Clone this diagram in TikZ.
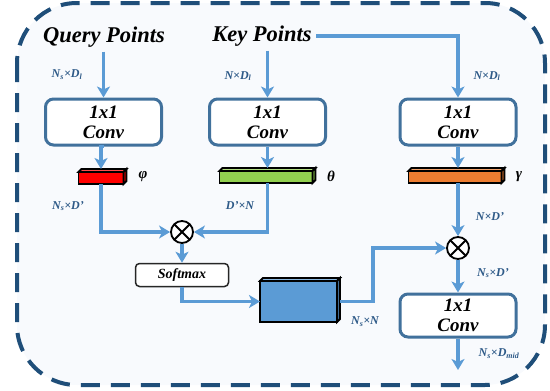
\documentclass[tikz,border=0pt]{standalone}
\usepackage{fontspec}
\setmainfont{Liberation Serif}
\usetikzlibrary{arrows.meta, calc}
\definecolor{flowblue}{HTML}{5B9BD5}
\definecolor{boxblue}{HTML}{41719C}
\definecolor{textblue}{HTML}{2E5A88}
\definecolor{framecol}{HTML}{1F4E79}
\definecolor{panel}{HTML}{F8FAFD}
\definecolor{barred}{HTML}{FF0000}
\definecolor{bargreen}{HTML}{92D050}
\definecolor{barorange}{HTML}{ED7D31}
\tikzset{
	frame/.style = {draw=framecol, line width=4pt, dash pattern=on 19pt off 11pt, rounded corners=60pt, fill=panel},
	title/.style = {font=\fontsize{22.5}{25}\selectfont\bfseries\itshape, outer sep=1pt},
	conv/.style = {draw=boxblue, line width=3pt, rounded corners=8pt, fill=white, minimum width=116pt, minimum height=46pt, align=center, font=\fontsize{19}{20}\selectfont\bfseries\itshape},
	soft/.style = {draw=black!85, line width=1.5pt, rounded corners=4pt, fill=white, minimum width=93pt, minimum height=23pt, font=\fontsize{14}{15}\selectfont\bfseries\itshape},
	barface/.style = {draw=black, line width=1.8pt, outer sep=0pt, inner sep=0pt, rectangle},
	mult/.style = {circle, draw=black, line width=1.8pt, fill=white, minimum size=22pt, inner sep=0pt,
		path picture={\draw[line width=1.8pt] (path picture bounding box.north west) -- (path picture bounding box.south east)
			(path picture bounding box.north east) -- (path picture bounding box.south west);}},
	flow/.style = {draw=flowblue, line width=3.8pt, -{Stealth[length=11pt, width=13pt, inset=3pt]}},
	lab/.style = {text=textblue, font=\fontsize{12}{14}\selectfont\bfseries\itshape, inner sep=0pt},
	greek/.style = {font=\fontsize{15}{16}\selectfont\bfseries\itshape, inner sep=0pt}
}
% feature bar with a thin top and side face
\newcommand{\featbar}[5]{
	\node [barface, minimum width=#3, minimum height=#4, fill=#5] (#1) at (#2) {};
	\draw [barface, fill=#5!70!white] (#1.north west) -- ++(3,-3) -- ([shift={(3,-3)}]#1.north east) -- (#1.north east) -- cycle;
	\draw [barface, fill=#5!70!black] (#1.north east) -- ++(3,-3) -- ([shift={(3,-3)}]#1.south east) -- (#1.south east) -- cycle;
}

\begin{document}
\begin{tikzpicture}[x=1pt, y=-1pt]
\useasboundingbox (0,0) rectangle (550,391);
\draw [frame] (17,3) rectangle (545,385);

\node [title] (qp) at (104,37) {Query Points};
\node [title] (kp) at (262,36) {Key Points};

\foreach \n/\x in {c1/103.5, c2/267.5, c3/458}
	\node [conv] (\n) at (\x,122) {1x1\\Conv};
\node [conv, minimum height=43pt] (c4) at (458,315.5) {1x1\\Conv};

\featbar{phi}{101,178}{45pt}{12pt}{barred}
\featbar{theta}{266,177}{93pt}{12pt}{bargreen}
\featbar{gam}{455,177}{93pt}{12pt}{barorange}
\node [greek] (phil) at (143,177) {φ};
\node [greek] (thetal) at (331,176) {θ};
\node [greek] (gaml) at (519,177) {γ};

\node [mult] (m1) at (182,232) {};
\node [mult] (m2) at (458,248) {};
\node [soft] (sm) at (182,275) {Softmax};
\featbar{att}{298.5,301.5}{77pt}{41pt}{flowblue}
\coordinate (out) at (458,370);

% connectors
\draw [flow] (qp.south -| c1) -- (c1.north);
\draw [flow] (kp.south -| c2) -- (c2.north);
\draw [flow] (kp.east) -| (c3.north);
\draw [flow, shorten >=3pt] (c1.south) -- (c1.south -| phi) -- (phi.north);
\draw [flow, shorten >=3pt] (c2.south) -- (theta.north -| c2);
\draw [flow, shorten >=3pt] (c3.south) -- (gam.north -| c3);
\draw [flow] (phi.south) |- (m1.west);
\draw [flow] (theta.south -| c2) |- (m1.east);
\draw [flow] (m1.south) -- (sm.north);
\draw [flow] (sm.south) |- (att.west);
\draw [flow, shorten <=3pt] (att.east) -- ++(36,0) |- (m2.west);
\draw [flow] (gam.south -| m2) -- (m2.north);
\draw [flow] (m2.south) -- (c4.north);
\draw [flow] (c4.south) -- (out);

% sizes
\node [lab] (l1) at (67,75) {N\textsubscript{s}×D\textsubscript{l}};
\node [lab] (l2) at (238,76) {N×D\textsubscript{l}};
\node [lab] (l3) at (487,76) {N×D\textsubscript{l}};
\node [lab] (l4) at (68,206) {N\textsubscript{s}×D'};
\node [lab] (l5) at (240,206) {D'×N};
\node [lab] (l6) at (490,217) {N×D'};
\node [lab] (l7) at (493,273) {N\textsubscript{s}×D'};
\node [lab] (l8) at (365,322) {N\textsubscript{s}×N};
\node [lab] (l9) at (499,354) {N\textsubscript{s}×D\textsubscript{mid}};
\end{tikzpicture}
\end{document}
